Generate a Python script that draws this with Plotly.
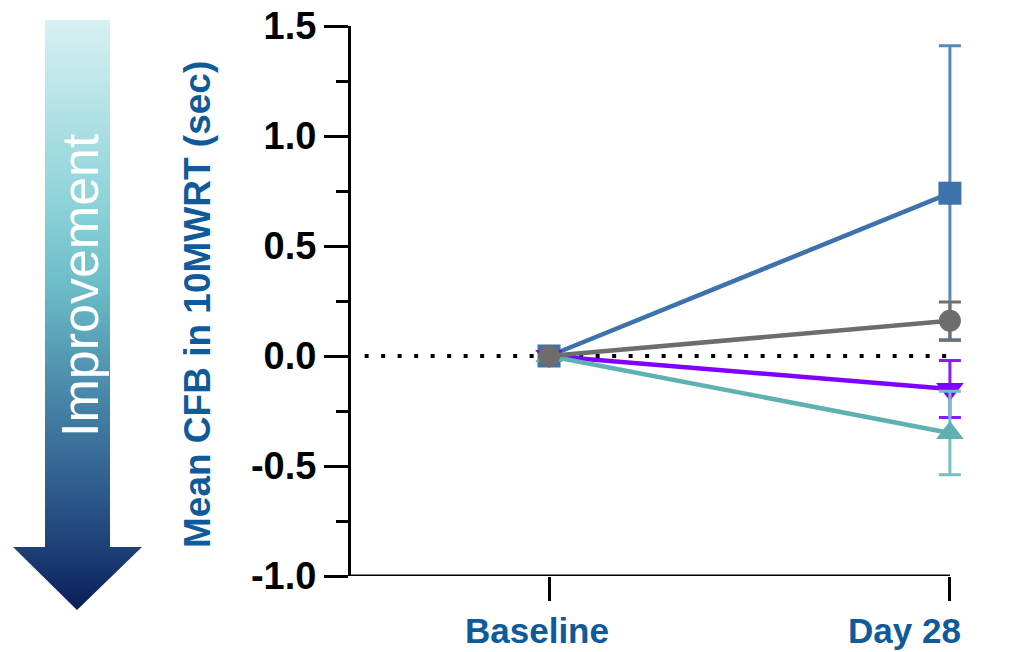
import plotly.graph_objects as go

# ---- data ----
timepoints = ["Baseline", "Day 28"]
time_x = [0, 1]
series_names = ["Series A (square)", "Series B (down-triangle)", "Series C (up-triangle)", "Series D (circle)"]
blue_mean = [0.0, 0.74]
blue_err = [0.0, 0.67]
purple_mean = [0.0, -0.15]
purple_err = [0.0, 0.13]
teal_mean = [0.0, -0.35]
teal_err = [0.0, 0.19]
grey_mean = [0.0, 0.16]
grey_err = [0.0, 0.086]

y_ticks = [-1.0, -0.5, 0.0, 0.5, 1.0, 1.5]
y_ticktext = ["-1.0", "-0.5", "0.0", "0.5", "1.0", "1.5"]

# page offset of the plot div (body margin removed by post_script below)
OFF = 0

# decorative arrow outline (page pixel space)
arrow_x = [45, 110, 110, 142, 77, 13, 45, 45]
arrow_y = [20, 20, 547, 547, 610, 547, 547, 20]

TXT_BLUE = "#0e5a9a"
FONT = "Liberation Sans, Arial, sans-serif"

# figure layout in page pixels
PAGE_TOP, PAGE_BOTTOM = 20, 622          # paper top / bottom on the page
PAPER_RIGHT = 990
AX_LEFT, AX_TOP, AX_BOTTOM = 351, 26, 576
X_MIN, X_MAX = -0.494, 1.1               # x range (Day 28 lands at page x 950)
M_T = PAGE_TOP - OFF
M_B = 652 - (PAGE_BOTTOM - OFF)
M_R = 1015 - (PAPER_RIGHT - OFF)
PW = PAPER_RIGHT - OFF          # paper width (margin l = 0)
PH = PAGE_BOTTOM - PAGE_TOP

fig = go.Figure()

specs = [
    (blue_mean, blue_err, "#3d72aa", "#5a88ba", "square", 23),
    (purple_mean, purple_err, "#7f00ff", "#8a1aff", "triangle-down", 24),
    (teal_mean, teal_err, "#5eb0b2", "#78bfc1", "triangle-up", 24),
    (grey_mean, grey_err, "#6d6d6d", "#707070", "circle", 22),
]
for name, (m, e, col, ecol, sym, sz) in zip(series_names, specs):
    fig.add_trace(go.Scatter(
        x=time_x, y=m, mode="lines+markers", name=name,
        line=dict(color=col, width=4.5),
        marker=dict(symbol=sym, size=sz, color=col, line=dict(width=0)),
        error_y=dict(type="data", array=e, visible=True, color=ecol, thickness=3, width=11),
        cliponaxis=False, showlegend=False,
    ))

# zero reference dotted line
fig.add_shape(type="line", xref="x", yref="y", x0=-0.46, x1=time_x[-1], y0=0, y1=0,
              line=dict(color="black", width=4, dash="4px,12.5px"), layer="below")
# x axis baseline (ends at the last time point)
fig.add_shape(type="line", xref="x", yref="y", x0=X_MIN, x1=time_x[-1], y0=-1.0, y1=-1.0,
              line=dict(color="black", width=3), layer="above")

# gradient arrow on its own panel
fig.add_trace(go.Scatter(
    x=arrow_x, y=arrow_y, xaxis="x2", yaxis="y2", mode="lines",
    fill="toself", line=dict(width=0, color="rgba(0,0,0,0)"),
    fillgradient=dict(type="vertical", start=20, stop=610, colorscale=[
        [0.0, "#d8f0f2"], [0.3, "#8fd4da"], [0.45, "#6cbdc7"], [0.6, "#4f91ae"],
        [0.8, "#2d5a8c"], [0.9, "#1c3f75"], [1.0, "#0a1d58"]]),
    hoverinfo="skip", showlegend=False,
))

fig.add_annotation(text="Improvement", xref="x2", yref="y2", x=80, y=285,
                   textangle=-90, showarrow=False,
                   font=dict(family=FONT, size=52, color="white"))

fig.add_annotation(text="<b>Mean CFB in 10MWRT (sec)</b>", xref="x2", yref="y2",
                   x=197, y=305, textangle=-90, showarrow=False,
                   font=dict(family=FONT, size=37, color=TXT_BLUE))

for tx, lab, shift in zip(time_x, timepoints, [-12, -45]):
    fig.add_annotation(text="<b>%s</b>" % lab, xref="x", yref="y domain", x=tx, y=0,
                       yshift=-76, xshift=shift, showarrow=False,
                       font=dict(family=FONT, size=35, color=TXT_BLUE))

fig.update_layout(
    width=1015, height=652,
    margin=dict(l=0, r=M_R, t=M_T, b=M_B, autoexpand=False),
    paper_bgcolor="white", plot_bgcolor="white",
    xaxis=dict(domain=[(AX_LEFT - OFF) / PW, 1], range=[X_MIN, X_MAX], tickvals=time_x,
               showticklabels=False, ticks="outside", ticklen=24, tickwidth=3,
               tickcolor="black", showline=False,
               showgrid=False, zeroline=False, automargin=False),
    yaxis=dict(domain=[(PAGE_BOTTOM - AX_BOTTOM) / PH, (PAGE_BOTTOM - AX_TOP) / PH],
               range=[-1.0, 1.5], tickvals=y_ticks,
               ticktext=y_ticktext, ticks="outside", ticklen=24, tickwidth=3,
               tickcolor="black", showline=True, linewidth=3, linecolor="black",
               showgrid=False, zeroline=False, ticklabeloverflow="allow", automargin=False,
               tickfont=dict(family=FONT, size=38, color="black", weight="bold"),
               minor=dict(ticks="outside", ticklen=12, tickwidth=3, tickcolor="black",
                          tick0=-1.0, dtick=0.25, showgrid=False)),
    # arrow panel: its data coordinates equal page pixels
    xaxis2=dict(domain=[0, 0.2], range=[OFF, OFF + 0.2 * PW], visible=False, anchor="y2"),
    yaxis2=dict(domain=[0, 1], range=[PAGE_BOTTOM, PAGE_TOP], visible=False, anchor="x2"),
)

fig.write_html("out.html", config={"displayModeBar": False},
               post_script="document.body.style.margin='0';")
